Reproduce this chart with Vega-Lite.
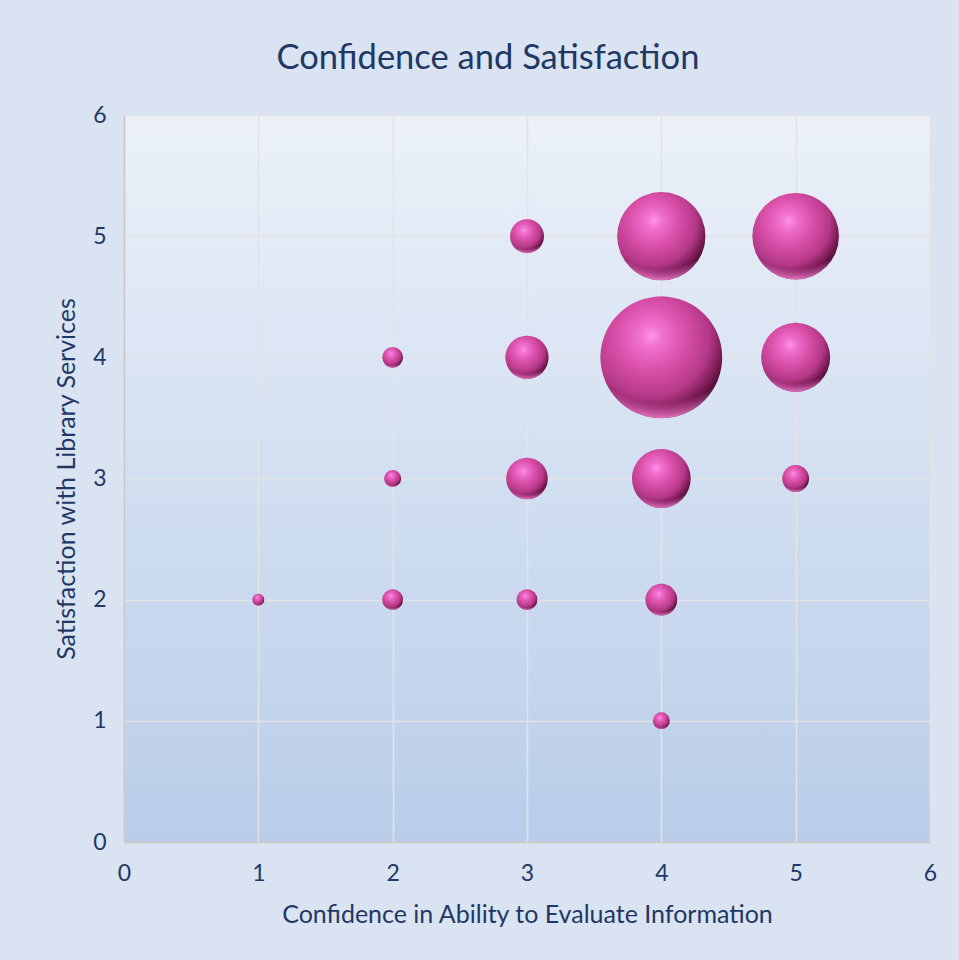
{
  "$schema": "https://vega.github.io/schema/vega-lite/v6.json",
  "width": 806,
  "height": 727,
  "autosize": {"type": "none"},
  "padding": {"left": 124, "top": 115, "right": 29, "bottom": 118},
  "background": "#D9E3F2",
  "view": {
    "stroke": null,
    "fill": {
      "gradient": "linear", "x1": 0, "y1": 0, "x2": 0, "y2": 1,
      "stops": [
        {"offset": 0, "color": "#ECF1F9"},
        {"offset": 1, "color": "#B9CDE9"}
      ]
    }
  },
  "title": {
    "text": "Confidence and Satisfaction",
    "font": "Lato",
    "fontSize": 34.5,
    "fontWeight": "normal",
    "color": "#1F3864",
    "frame": "group",
    "baseline": "alphabetic",
    "offset": 1,
    "dx": -39
  },
  "data": {
    "values": [
      {"confidence": 1, "satisfaction": 2, "count": 1},
      {"confidence": 2, "satisfaction": 2, "count": 3},
      {"confidence": 2, "satisfaction": 3, "count": 2},
      {"confidence": 2, "satisfaction": 4, "count": 3},
      {"confidence": 3, "satisfaction": 2, "count": 3},
      {"confidence": 3, "satisfaction": 3, "count": 12},
      {"confidence": 3, "satisfaction": 4, "count": 13},
      {"confidence": 3, "satisfaction": 5, "count": 8},
      {"confidence": 4, "satisfaction": 1, "count": 2},
      {"confidence": 4, "satisfaction": 2, "count": 7},
      {"confidence": 4, "satisfaction": 3, "count": 24},
      {"confidence": 4, "satisfaction": 4, "count": 103},
      {"confidence": 4, "satisfaction": 5, "count": 54},
      {"confidence": 5, "satisfaction": 3, "count": 5},
      {"confidence": 5, "satisfaction": 4, "count": 33},
      {"confidence": 5, "satisfaction": 5, "count": 52}
    ]
  },
  "encoding": {
    "x": {
      "field": "confidence",
      "type": "quantitative",
      "scale": {"domain": [0, 6], "nice": false, "zero": true},
      "axis": {
        "title": "Confidence in Ability to Evaluate Information",
        "values": [0, 1, 2, 3, 4, 5, 6],
        "format": "d",
        "labelFlush": false,
        "titlePadding": 17,
        "labelPadding": 20
      }
    },
    "y": {
      "field": "satisfaction",
      "type": "quantitative",
      "scale": {"domain": [0, 6], "nice": false, "zero": true},
      "axis": {
        "title": "Satisfaction with Library Services",
        "values": [0, 1, 2, 3, 4, 5, 6],
        "format": "d",
        "labelFlush": false,
        "titlePadding": 13,
        "labelPadding": 18
      }
    },
    "size": {
      "field": "count",
      "type": "quantitative",
      "scale": {"domain": [0, 103], "range": [0, 14832], "zero": true},
      "legend": null
    }
  },
  "layer": [
    {
      "mark": {
        "type": "point",
        "shape": "circle",
        "filled": true,
        "opacity": 1,
        "strokeWidth": 0,
        "fill": {
          "gradient": "radial",
          "x1": 0.42, "y1": 0.32, "r1": 0,
          "x2": 0.4, "y2": 0.35, "r2": 0.68,
          "stops": [
            {"offset": 0, "color": "#FF94EC"},
            {"offset": 0.14, "color": "#F070CF"},
            {"offset": 0.42, "color": "#D94FA8"},
            {"offset": 0.72, "color": "#B33887"},
            {"offset": 0.9, "color": "#74184F"},
            {"offset": 1, "color": "#3E0A2E"}
          ]
        }
      }
    },
    {
      "mark": {
        "type": "point",
        "shape": "circle",
        "filled": true,
        "opacity": 1,
        "strokeWidth": 0,
        "fill": {
          "gradient": "radial",
          "x1": 0.5, "y1": 0.1, "r1": 0,
          "x2": 0.5, "y2": 0.1, "r2": 0.92,
          "stops": [
            {"offset": 0, "color": "rgba(240,110,200,0)"},
            {"offset": 0.84, "color": "rgba(240,110,200,0)"},
            {"offset": 0.97, "color": "rgba(245,125,205,0.85)"},
            {"offset": 1, "color": "rgba(245,125,205,0.9)"}
          ]
        }
      }
    }
  ],
  "config": {
    "axis": {
      "labelFont": "Lato",
      "labelFontSize": 23,
      "labelColor": "#1F3864",
      "titleFont": "Lato",
      "titleFontSize": 25,
      "titleFontWeight": "normal",
      "titleColor": "#1F3864",
      "ticks": false,
      "grid": true,
      "gridColor": "#E3E3E3",
      "gridWidth": 1.6,
      "domainColor": "#C8C8C8",
      "domainWidth": 1.6
    }
  }
}
